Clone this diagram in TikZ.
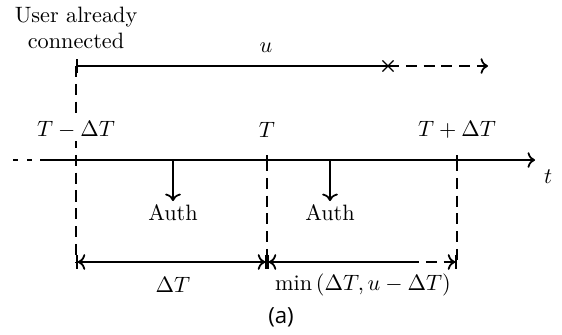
\documentclass[tikz,border=0pt]{standalone}
\usepackage{fontspec}
\newfontfamily\capfont{Open Sans}
\usetikzlibrary{arrows.meta,positioning,shapes.misc,calc}

\tikzset{
  guide/.style={dash pattern=on 5pt off 3pt},
  timeline/.style={line width=0.8pt},
  lbl/.style={inner sep=1pt},
}

\begin{document}
\begin{tikzpicture}[x=0.45pt, y=-0.45pt, timeline, >=To]
  \useasboundingbox (0,0) rectangle (562,334);

  % time axis points
  \coordinate (axL) at (13,160);
  \coordinate (axM) at (40,160);
  \coordinate (axR) at (535,160);
  \coordinate (tl) at (76,160);
  \coordinate (t0) at (267,160);
  \coordinate (tr) at (457,160);

  % session of the user
  \node[align=center] (user) at (76,28) {User already\\connected};
  \coordinate (uS) at (76,66);
  \coordinate (uX) at (388,66);
  \coordinate (uE) at (488,66);
  \node[lbl] (ulbl) at (266,48) {$u$};

  % dimension line points
  \coordinate (dL) at (76,262);
  \coordinate (d0) at (267,262);
  \coordinate (dM) at (408,262);
  \coordinate (dR) at (457,262);

  \draw[guide] (uS) -- (dL);
  \draw[guide] (t0) -- (d0);
  \draw[guide] (tr) -- (dR);

  \draw[|-] (uS) -- (uX);
  \draw[guide,->] (uX) -- (uE);
  \node[cross out, draw, line width=0.5pt, minimum size=4.5pt, inner sep=0pt] (ux) at (uX) {};

  \draw[dash pattern=on 2.2pt off 4.3pt] (axL) -- (axM);
  \draw[->] (axM) -- (axR);
  \node (tlbl) at (548,177) {$t$};

  \foreach \p in {tl,t0,tr}
    \draw ($(\p)+(0,-5)$) -- ($(\p)+(0,5)$);

  \node[lbl, fill=white] (lblL) at (76,130) {$T-\Delta T$};
  \node[lbl] (lbl0) at (267,130) {$T$};
  \node[lbl] (lblR) at (457,130) {$T+\Delta T$};

  % authentications
  \coordinate (a1) at (173,160);
  \coordinate (a2) at (330,160);
  \node (auth1) at (173,213) {Auth};
  \node (auth2) at (330,213) {Auth};
  \draw[->, shorten >=-2pt] (a1) -- (auth1);
  \draw[->, shorten >=-2pt] (a2) -- (auth2);

  % intervals
  \draw[|<->|] (dL) -- (d0);
  \draw[|<-] (d0) -- (dM);
  \draw[guide,->|] (dM) -- (dR);
  \node (dim1) at (173,285) {$\Delta T$};
  \node (dim2) at (363,285) {$\min\left(\Delta T, u-\Delta T\right)$};

  \node (cap) at (281,317) {\capfont (a)};
\end{tikzpicture}
\end{document}
